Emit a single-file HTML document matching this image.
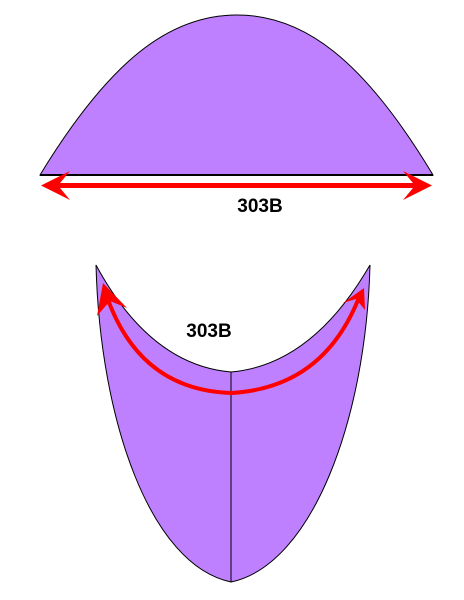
<!DOCTYPE html>
<html><head><meta charset="utf-8"><style>
html,body{margin:0;padding:0;background:#fff;width:464px;height:600px;overflow:hidden}
svg{display:block}
text{font-family:"Liberation Sans",sans-serif;font-weight:bold;font-size:19px;fill:#000}
</style></head><body>
<svg width="464" height="600" viewBox="0 0 464 600">
  <path d="M40,175 C110,60 170,15 237,15 C304,15 364,60 433,175 Z" fill="#bf80ff" stroke="#000" stroke-width="1"/>
  <line x1="40" y1="175" x2="433" y2="175" stroke="#000" stroke-width="2"/>
  <g fill="#ff0000">
    <rect x="55" y="183" width="363" height="5"/>
    <polygon points="41,185.5 70,171 58,185.5 70,200"/>
    <polygon points="432,185.5 403,171 415,185.5 403,200"/>
  </g>
  <text x="260" y="212" text-anchor="middle">303B</text>

  <path d="M96,265 C100,420 150,565 231,582 C312,565 366,420 370,265 Q312,365 231,372 Q150,365 96,265 Z" fill="#bf80ff" stroke="#000" stroke-width="1"/>
  <line x1="231" y1="372" x2="231" y2="582" stroke="#000" stroke-width="1"/>
  <path d="M107,297 Q140,390 231,393 Q322,388 358,300" fill="none" stroke="#ff0000" stroke-width="4"/>
  <polygon points="103,283 127,308 110,301 97,316" fill="#ff0000"/>
  <polygon points="364,288 365,310 356,299 343,303" fill="#ff0000"/>
  <text x="209" y="337" text-anchor="middle">303B</text>
</svg>
</body></html>
